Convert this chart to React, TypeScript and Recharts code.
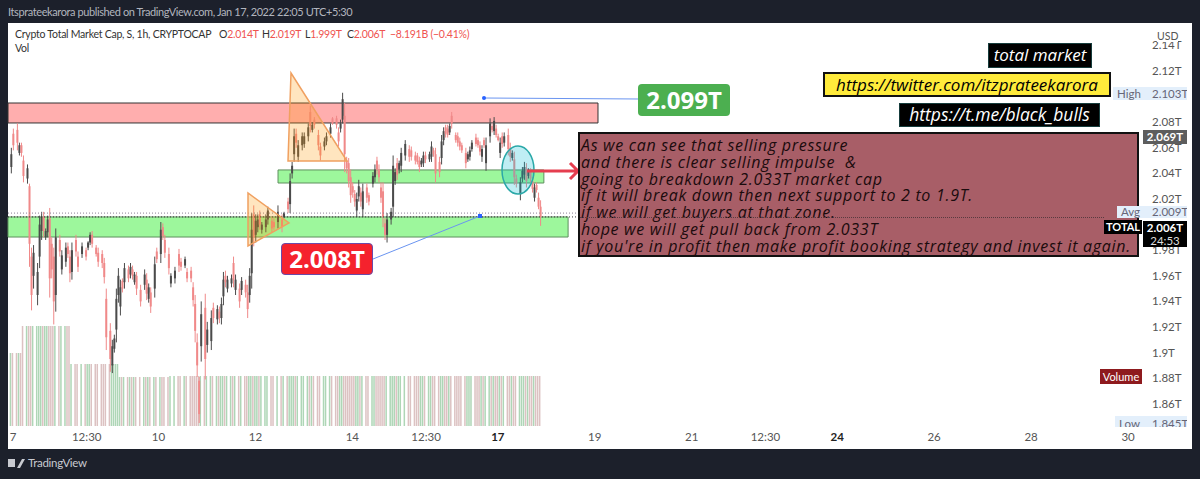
import { Bar, ComposedChart, ReferenceArea, ReferenceLine, XAxis, YAxis } from "recharts";

// candle hours counted from Jan 7 00:00
const hours = [
  -1, 0, 2, 3, 4, 5, 7, 8, 9, 10, 12, 13, 14, 15, 16, 17, 18, 19, 20, 21,
  23, 24, 26, 27, 28, 29, 31, 32, 34, 36, 37, 38, 39, 41, 42, 44, 45, 46, 48, 49,
  50, 51, 52, 53, 54, 55, 57, 58, 59, 60, 61, 63, 65, 66, 67, 68, 70, 71, 73, 74,
  75, 77, 78, 80, 82, 83, 85, 86, 88, 89, 90, 91, 92, 93, 95, 96, 98, 99, 101, 102,
  103, 104, 105, 106, 108, 109, 110, 112, 113, 115, 116, 117, 118, 119, 120, 121, 122, 123, 125, 126,
  128, 129, 131, 133, 134, 136, 137, 138, 139, 140, 141, 143, 144, 146, 147, 148, 149, 151, 152, 154,
  155, 157, 158, 160, 161, 162, 163, 164, 165, 166, 167, 168, 169, 170, 171, 172, 173, 175, 176, 178,
  179, 180, 181, 182, 183, 184, 185, 187, 188, 189, 190, 191, 192, 194, 196, 197, 199, 200, 201, 202,
  203, 204, 206, 207, 208, 209, 211, 212, 213, 214, 215, 216, 217, 219, 220, 221, 222, 224, 225, 226,
  227, 229, 230, 231, 232, 233, 234, 236, 237, 238, 239, 240, 241, 242, 243, 245, 246, 247, 248, 249,
  251, 252, 253, 254, 255, 256, 257, 258, 259, 260, 261,
];

const opens = [
  2.045, 2.071, 2.074, 2.056, 2.062, 2.05, 2.036, 2.03, 1.975, 1.96,
  1.945, 1.975, 1.995, 2.006, 1.99, 1.994, 2.005, 1.985, 1.975, 1.945,
  1.988, 1.965, 1.971, 1.983, 1.975, 1.963, 1.988, 1.975, 1.977, 1.98,
  1.982, 1.986, 1.992, 1.982, 1.978, 1.977, 1.97, 1.942, 1.917, 1.89,
  1.903, 1.918, 1.945, 1.936, 1.956, 1.955, 1.965, 1.961, 1.965, 1.955,
  1.96, 1.949, 1.953, 1.957, 1.942, 1.947, 1.95, 1.979, 1.977, 1.998,
  1.988, 1.977, 1.954, 1.958, 1.977, 1.971, 1.968, 1.963, 1.964, 1.951,
  1.938, 1.908, 1.878, 1.905, 1.935, 1.906, 1.909, 1.935, 1.926, 1.932,
  1.927, 1.944, 1.96, 1.95, 1.954, 1.97, 1.949, 1.95, 1.949, 1.953,
  1.947, 1.945, 1.962, 2.008, 1.992, 1.998, 2.008, 1.996, 1.998, 2.004,
  2.003, 2.002, 2.002, 2.004, 2.006, 2.018, 2.016, 2.04, 2.055, 2.071,
  2.053, 2.062, 2.063, 2.069, 2.088, 2.074, 2.082, 2.07, 2.061, 2.061,
  2.065, 2.071, 2.083, 2.083, 2.072, 2.075, 2.082, 2.085, 2.05, 2.048,
  2.037, 2.03, 2.024, 2.011, 2.022, 2.025, 2.012, 2.029, 2.023, 2.032,
  2.037, 2.05, 2.043, 2.029, 2.026, 2.001, 1.992, 2.004, 2.014, 2.034,
  2.048, 2.043, 2.046, 2.054, 2.059, 2.058, 2.054, 2.054, 2.05, 2.047,
  2.048, 2.054, 2.051, 2.053, 2.058, 2.055, 2.049, 2.052, 2.066, 2.076,
  2.075, 2.072, 2.085, 2.07, 2.069, 2.065, 2.062, 2.056, 2.051, 2.053,
  2.059, 2.068, 2.066, 2.062, 2.053, 2.066, 2.048, 2.069, 2.077, 2.073,
  2.075, 2.069, 2.056, 2.069, 2.064, 2.07, 2.06, 2.052, 2.051, 2.036,
  2.024, 2.036, 2.039, 2.044, 2.038, 2.041, 2.034, 2.021, 2.031, 2.021,
  2.014,
];

const highs = [
  2.06, 2.075, 2.079, 2.064, 2.064, 2.054, 2.047, 2.032, 1.982, 1.984,
  1.97, 2.007, 2.01, 2.01, 1.997, 2.007, 2.013, 1.99, 1.982, 1.997,
  1.992, 1.98, 1.986, 1.986, 1.98, 1.986, 1.992, 1.979, 1.986, 1.982,
  1.987, 1.994, 1.995, 1.984, 1.982, 1.98, 1.974, 1.95, 1.923, 1.91,
  1.914, 1.95, 1.966, 1.957, 1.958, 1.97, 1.968, 1.97, 1.968, 1.963,
  1.963, 1.953, 1.965, 1.962, 1.954, 1.951, 1.975, 1.982, 2.002, 2.001,
  1.992, 1.982, 1.962, 1.967, 1.981, 1.974, 1.975, 1.966, 1.967, 1.955,
  1.945, 1.915, 1.881, 1.94, 1.946, 1.924, 1.933, 1.939, 1.937, 1.936,
  1.943, 1.963, 1.964, 1.96, 1.961, 1.975, 1.961, 1.954, 1.959, 1.957,
  1.953, 1.966, 2.009, 2.015, 2.008, 2.008, 2.011, 2.002, 2.008, 2.014,
  2.006, 2.005, 2.015, 2.008, 2.01, 2.021, 2.04, 2.049, 2.075, 2.075,
  2.066, 2.072, 2.072, 2.079, 2.093, 2.08, 2.084, 2.074, 2.064, 2.068,
  2.072, 2.079, 2.084, 2.085, 2.076, 2.082, 2.103, 2.095, 2.053, 2.052,
  2.043, 2.033, 2.027, 2.025, 2.035, 2.029, 2.032, 2.032, 2.025, 2.041,
  2.047, 2.053, 2.047, 2.033, 2.033, 2.005, 2.009, 2.013, 2.054, 2.044,
  2.052, 2.05, 2.06, 2.066, 2.062, 2.061, 2.057, 2.056, 2.053, 2.052,
  2.057, 2.057, 2.057, 2.065, 2.06, 2.06, 2.053, 2.07, 2.076, 2.078,
  2.078, 2.079, 2.088, 2.072, 2.072, 2.068, 2.064, 2.06, 2.057, 2.061,
  2.066, 2.071, 2.068, 2.065, 2.062, 2.068, 2.068, 2.083, 2.079, 2.084,
  2.078, 2.071, 2.068, 2.072, 2.072, 2.075, 2.064, 2.058, 2.057, 2.039,
  2.037, 2.045, 2.049, 2.048, 2.044, 2.044, 2.037, 2.032, 2.033, 2.025,
  2.019,
];

const lows = [
  2.04, 2.058, 2.058, 2.054, 2.053, 2.033, 2.032, 1.967, 1.933, 1.95,
  1.937, 1.966, 1.988, 1.99, 1.988, 1.99, 1.943, 1.958, 1.922, 1.932,
  1.975, 1.961, 1.967, 1.974, 1.955, 1.957, 1.975, 1.963, 1.974, 1.972,
  1.98, 1.984, 1.982, 1.975, 1.967, 1.966, 1.954, 1.902, 1.885, 1.884,
  1.9, 1.908, 1.939, 1.929, 1.947, 1.95, 1.955, 1.958, 1.957, 1.953,
  1.945, 1.936, 1.949, 1.941, 1.939, 1.931, 1.943, 1.97, 1.97, 1.988,
  1.974, 1.961, 1.951, 1.954, 1.963, 1.964, 1.966, 1.955, 1.955, 1.936,
  1.908, 1.881, 1.845, 1.893, 1.879, 1.9, 1.902, 1.923, 1.922, 1.923,
  1.922, 1.937, 1.951, 1.947, 1.951, 1.951, 1.945, 1.935, 1.945, 1.943,
  1.927, 1.939, 1.95, 1.983, 1.986, 1.994, 1.996, 1.993, 1.994, 2.0,
  1.994, 1.996, 1.997, 1.994, 2.005, 2.009, 2.009, 2.036, 2.049, 2.06,
  2.049, 2.058, 2.06, 2.065, 2.072, 2.072, 2.075, 2.058, 2.05, 2.058,
  2.062, 2.068, 2.078, 2.075, 2.061, 2.072, 2.079, 2.041, 2.04, 2.029,
  2.017, 2.021, 2.014, 2.006, 2.018, 2.014, 2.006, 2.017, 2.015, 2.029,
  2.033, 2.039, 2.033, 2.017, 1.998, 1.988, 1.986, 2.0, 2.006, 2.031,
  2.035, 2.04, 2.041, 2.05, 2.049, 2.05, 2.047, 2.047, 2.041, 2.045,
  2.045, 2.048, 2.049, 2.049, 2.053, 2.033, 2.037, 2.047, 2.062, 2.068,
  2.068, 2.07, 2.075, 2.064, 2.061, 2.058, 2.056, 2.044, 2.049, 2.05,
  2.057, 2.061, 2.06, 2.054, 2.049, 2.06, 2.042, 2.064, 2.072, 2.07,
  2.068, 2.065, 2.052, 2.06, 2.061, 2.054, 2.049, 2.05, 2.031, 2.029,
  2.019, 2.033, 2.035, 2.029, 2.036, 2.033, 2.025, 2.018, 2.025, 2.012,
  1.999,
];

const closes = [
  2.055, 2.062, 2.064, 2.062, 2.056, 2.038, 2.044, 1.985, 1.945, 1.978,
  1.963, 2.0, 2.006, 1.995, 1.995, 2.004, 1.958, 1.965, 1.94, 1.99,
  1.979, 1.976, 1.982, 1.977, 1.962, 1.98, 1.979, 1.967, 1.983, 1.975,
  1.986, 1.992, 1.985, 1.977, 1.971, 1.97, 1.959, 1.912, 1.895, 1.905,
  1.911, 1.942, 1.96, 1.951, 1.95, 1.966, 1.958, 1.967, 1.96, 1.961,
  1.95, 1.94, 1.961, 1.946, 1.951, 1.936, 1.969, 1.973, 1.996, 1.991,
  1.978, 1.966, 1.96, 1.964, 1.968, 1.967, 1.973, 1.958, 1.958, 1.941,
  1.917, 1.89, 1.852, 1.93, 1.895, 1.918, 1.927, 1.927, 1.934, 1.927,
  1.938, 1.957, 1.955, 1.957, 1.958, 1.957, 1.957, 1.94, 1.956, 1.947,
  1.934, 1.96, 1.996, 1.99, 2.003, 2.004, 2.0, 2.0, 2.004, 2.011,
  1.997, 1.998, 2.01, 1.998, 2.009, 2.012, 2.034, 2.046, 2.069, 2.064,
  2.062, 2.069, 2.069, 2.076, 2.077, 2.078, 2.078, 2.062, 2.054, 2.065,
  2.069, 2.076, 2.079, 2.078, 2.065, 2.079, 2.098, 2.055, 2.044, 2.034,
  2.023, 2.025, 2.018, 2.02, 2.03, 2.018, 2.026, 2.021, 2.018, 2.038,
  2.043, 2.043, 2.037, 2.021, 2.006, 1.992, 2.004, 2.01, 2.046, 2.041,
  2.039, 2.048, 2.056, 2.063, 2.053, 2.053, 2.05, 2.049, 2.045, 2.05,
  2.054, 2.051, 2.055, 2.061, 2.055, 2.04, 2.041, 2.065, 2.073, 2.071,
  2.07, 2.077, 2.079, 2.066, 2.064, 2.061, 2.058, 2.048, 2.055, 2.058,
  2.064, 2.063, 2.062, 2.057, 2.059, 2.062, 2.062, 2.079, 2.074, 2.081,
  2.07, 2.066, 2.064, 2.063, 2.069, 2.059, 2.053, 2.056, 2.037, 2.032,
  2.033, 2.042, 2.045, 2.034, 2.042, 2.036, 2.028, 2.029, 2.027, 2.014,
  2.006,
];

const volumes = [
  73, 73, 73, 73, 73, 100, 100, 100, 100, 100,
  100, 100, 100, 100, 100, 100, 100, 100, 100, 100,
  100, 100, 100, 100, 100, 62, 62, 62, 62, 62,
  62, 62, 62, 62, 62, 62, 62, 62, 62, 62,
  62, 62, 62, 49, 49, 49, 49, 49, 49, 49,
  49, 49, 49, 49, 49, 49, 49, 49, 49, 49,
  49, 49, 50, 50, 50, 50, 50, 50, 50, 50,
  50, 50, 50, 50, 50, 50, 50, 50, 50, 50,
  50, 50, 50, 50, 50, 50, 50, 50, 50, 50,
  50, 50, 50, 50, 50, 50, 50, 50, 50, 50,
  50, 50, 50, 50, 50, 50, 50, 50, 50, 50,
  50, 50, 50, 50, 50, 50, 50, 50, 50, 50,
  50, 50, 50, 50, 50, 50, 50, 50, 50, 50,
  50, 50, 50, 50, 50, 50, 50, 50, 50, 50,
  50, 50, 50, 50, 50, 50, 50, 50, 50, 50,
  50, 50, 50, 50, 50, 50, 50, 50, 50, 50,
  50, 50, 50, 50, 50, 50, 50, 50, 50, 50,
  50, 50, 50, 50, 50, 50, 50, 50, 50, 50,
  50, 50, 50, 50, 50, 50, 50, 50, 50, 50,
  50, 50, 50, 50, 50, 50, 50, 50, 50, 50,
  50, 50, 50, 50, 50, 50, 50, 50, 50, 50,
  50,
];

const timeTicks = [0, 36.5, 72, 120, 168, 204.5, 240, 288, 336, 372.5, 408, 456, 504, 552];
const timeLabels = ["7", "12:30", "10", "12", "14", "12:30", "17", "19", "21", "12:30", "24", "26", "28", "30"];
const boldLabels = ["17", "24"];
const priceTicks = [2.14, 2.12, 2.08, 2.06, 2.04, 2.02, 1.98, 1.96, 1.94, 1.92, 1.9, 1.88, 1.86];

const noteLines = [
  "As we can see that selling pressure",
  "and there is clear selling impulse  &",
  "going to breakdown 2.033T market cap",
  "if it will break down then next support to 2 to 1.9T.",
  "if we will get buyers at that zone.",
  "hope we will get pull back from 2.033T",
  "if you're in profit then make profit booking strategy and invest it again.",
];

const ohlcLabels = ["O", "H", "L", "C"];
const ohlcValues = ["2.014T", "2.019T", "1.999T", "2.006T"];

const rows = hours.map((hour, i) => ({
  hour,
  open: opens[i],
  high: highs[i],
  low: lows[i],
  close: closes[i],
  volume: volumes[i],
}));

const FONT = "Lato, sans-serif";
const NOTE_FONT = "'Open Sans', sans-serif";
const UP = "#4b4b4b";
const DOWN = "#f08989";
const OHLC_LEFT = [219, 262, 305, 347];

function Candle(props: any) {
  const { x, y, width, height, payload } = props;
  const top = Math.min(y, y + height);
  const span = Math.abs(height);
  const range = payload.high - payload.low || 1;
  const px = (v: number) => top + ((payload.high - v) / range) * span;
  const bodyTop = px(Math.max(payload.open, payload.close));
  const bodyBottom = px(Math.min(payload.open, payload.close));
  const color = payload.close >= payload.open ? UP : DOWN;
  const mid = x + width / 2;
  return (
    <g>
      <line x1={mid} x2={mid} y1={top} y2={top + span} stroke={color} strokeWidth={1} />
      <rect x={mid - 1} y={bodyTop} width={2} height={Math.max(bodyBottom - bodyTop, 1)} fill={color} />
    </g>
  );
}

// recharts squeezes bars to the one hour band, so the width is set here
function VolumeBar(props: any) {
  const { x, y, width, height, payload } = props;
  const fill = payload.close >= payload.open ? "#aed6b6" : "#dcc2c2";
  return <rect x={x + width / 2 - 0.75} y={y} width={1.5} height={height} fill={fill} />;
}

function TimeTick(props: any) {
  const { x, y, payload } = props;
  const label = timeLabels[timeTicks.indexOf(payload.value)];
  const bold = boldLabels.includes(label);
  return (
    <text x={x} y={y + 7} textAnchor="middle" fontFamily={FONT} fontSize={11.5} fontWeight={bold ? 700 : 400} fill={bold ? "#222" : "#555"}>
      {label}
    </text>
  );
}

function Tag(props: any) {
  const { x, y, w, h, bg, color, border, children, italic, size, weight, radius, center, font } = props;
  return (
    <div
      style={{
        position: "absolute",
        left: x,
        top: y,
        width: w,
        height: h,
        boxSizing: "border-box",
        background: bg,
        color,
        border: border || "none",
        borderRadius: radius || 0,
        fontFamily: font || FONT,
        fontSize: size || 11,
        fontStyle: italic ? "italic" : "normal",
        fontWeight: weight || 400,
        lineHeight: `${h - (border ? 3 : 0)}px`,
        textAlign: center ? "center" : "left",
        whiteSpace: "pre",
      }}
    >
      {children}
    </div>
  );
}

function PriceTag(props: any) {
  const { x, y, w, h, label, value, lineHeight } = props;
  const style: any = { position: "absolute", fontFamily: FONT, fontSize: 11.5, color: "#667", lineHeight: `${lineHeight || h}px`, whiteSpace: "pre" };
  return (
    <div style={{ position: "absolute", left: x, top: y, width: w, height: h, background: "#e3effb", overflow: "hidden" }}>
      <span style={{ ...style, left: 4, top: 0 }}>{label}</span>
      <span style={{ ...style, left: 1152 - x, top: 0 }}>{value}</span>
    </div>
  );
}

export default function App() {
  const legend: any = { position: "absolute", top: 28, fontFamily: FONT, fontSize: 10.5, letterSpacing: -0.25, color: "#333", whiteSpace: "pre" };
  return (
    <div style={{ position: "absolute", left: 0, top: 0, width: 1200, height: 479, overflow: "hidden", background: "#1c202b" }}>
      <div style={{ position: "absolute", left: 8, top: 23, width: 1184, height: 426, background: "#fff" }} />
      <div style={{ position: "absolute", left: 8, top: 5, fontFamily: FONT, fontSize: 11, letterSpacing: -0.4, color: "#b2b5be", whiteSpace: "pre" }}>
        Itsprateekarora published on TradingView.com, Jan 17, 2022 22:05 UTC+5:30
      </div>

      <div style={{ position: "absolute", left: 0, top: 0 }}>
        <ComposedChart width={1200} height={479} data={rows} margin={{ top: 23, right: 8, bottom: 30, left: 8 }}>
          <XAxis
            xAxisId="time"
            dataKey="hour"
            type="number"
            domain={[-2.475, 559.4]}
            allowDataOverflow
            ticks={timeTicks}
            interval={0}
            height={23}
            tick={<TimeTick />}
            tickLine={false}
            axisLine={false}
          />
          <YAxis
            yAxisId="price"
            orientation="right"
            type="number"
            domain={[1.84266, 2.1575]}
            allowDataOverflow
            ticks={priceTicks}
            interval={0}
            width={49}
            tickFormatter={(v: number) => `${v}T`}
            tick={{ fontFamily: FONT, fontSize: 11.5, fill: "#555" }}
            tickLine={false}
            tickMargin={3}
            axisLine={false}
          />
          <YAxis yAxisId="volume" hide type="number" domain={[0, 403]} allowDataOverflow />

          <Bar xAxisId="time" yAxisId="volume" dataKey="volume" barSize={2} shape={<VolumeBar />} isAnimationActive={false} />
          <Bar
            xAxisId="time"
            yAxisId="price"
            dataKey={(d: any) => [d.low, d.high]}
            barSize={2}
            shape={<Candle />}
            isAnimationActive={false}
          />

          <ReferenceArea xAxisId="time" yAxisId="price" x1={-2.475} x2={289.6} y1={2.0794} y2={2.095} fill="#ff6b6b" fillOpacity={0.55} stroke="#333" strokeWidth={1} />
          <ReferenceArea xAxisId="time" yAxisId="price" x1={-2.475} x2={274.8} y1={1.9903} y2={2.006} fill="#4cf04a" fillOpacity={0.55} stroke="#5e8f5e" strokeWidth={1} />
          <ReferenceArea xAxisId="time" yAxisId="price" x1={131.2} x2={262.8} y1={2.0325} y2={2.0427} fill="#4cf04a" fillOpacity={0.55} stroke="#5e8f5e" strokeWidth={1} />
          <ReferenceLine xAxisId="time" yAxisId="price" y={2.009} stroke="#8a7f95" strokeDasharray="1 2" />
          <ReferenceLine xAxisId="time" yAxisId="price" y={2.006} stroke="#333" strokeDasharray="1 2" />
        </ComposedChart>
      </div>

      {/* drawings the author placed on top of the chart */}
      <svg width={1200} height={479} style={{ position: "absolute", left: 0, top: 0 }}>
        <polygon points="291,73 288,161 347,161" fill="#ff9800" fillOpacity={0.25} stroke="#f0a060" strokeWidth={1.5} />
        <polygon points="248,193 248,246 289,223" fill="#ff9800" fillOpacity={0.25} stroke="#f0a060" strokeWidth={1.5} />
        <ellipse cx={518} cy={170} rx={16} ry={24} fill="#00bcd4" fillOpacity={0.25} stroke="#2aa8a8" strokeWidth={1.5} />
        <line x1={484} y1={98} x2={640} y2={99} stroke="#6a94f0" strokeWidth={1} />
        <circle cx={484} cy={98} r={2} fill="#2962ff" />
        <line x1={480} y1={216} x2={373} y2={259} stroke="#6a94f0" strokeWidth={1} />
        <rect x={478} y={214} width={4} height={4} fill="#2962ff" />
        <path d="M527 171 H578 M570 163 L578 171 L570 179" fill="none" stroke="#e53e4f" strokeWidth={3} />
        <path d="M8 467 H15 V459 H8 Z M17 468 L22 459 H25 L20 468 Z" fill="#c8cad0" />
      </svg>

      <div style={{ ...legend, left: 15 }}>Crypto Total Market Cap, S, 1h, CRYPTOCAP</div>
      {ohlcLabels.map((k, i) => (
        <div key={k} style={{ ...legend, left: OHLC_LEFT[i] }}>
          {k}
          <span style={{ color: "#ef5350" }}>{ohlcValues[i]}</span>
        </div>
      ))}
      <div style={{ ...legend, left: 390, color: "#ef5350" }}>−8.191B (−0.41%)</div>
      <div style={{ ...legend, left: 15, top: 42 }}>Vol</div>

      <Tag x={638} y={84} w={92} h={32} bg="#4caf50" color="#fff" size={24} weight={700} radius={4} center font={NOTE_FONT}>2.099T</Tag>
      <Tag x={281} y={243} w={92} h={32} bg="#f5222d" color="#fff" border="1px solid #6a4aa8" size={24} weight={700} radius={4} center font={NOTE_FONT}>2.008T</Tag>

      <Tag x={988} y={43} w={104} h={25} bg="#000" color="#fff" border="1px solid #163c3c" size={17} weight={500} italic center font={NOTE_FONT}>total market</Tag>
      <Tag x={823} y={72} w={288} h={25} bg="#ffeb3b" color="#000" border="2px solid #111" size={17} weight={500} italic center font={NOTE_FONT}>https://twitter.com/itzprateekarora</Tag>
      <Tag x={899} y={103} w={201} h={24} bg="#000" color="#fff" border="1px solid #163c3c" size={17.5} weight={500} italic center font={NOTE_FONT}>https://t.me/black_bulls</Tag>

      <div
        style={{
          position: "absolute",
          left: 578,
          top: 132,
          width: 561,
          height: 125,
          boxSizing: "border-box",
          background: "#a85e67",
          border: "2px solid #111",
          padding: "3px 0 0 1px",
          color: "#1b0b0d",
          fontFamily: NOTE_FONT,
          fontStyle: "italic",
          fontSize: 16,
          lineHeight: "16.8px",
          letterSpacing: 0.7,
          whiteSpace: "pre",
        }}
      >
        {noteLines.map((line) => (
          <div key={line}>{line}</div>
        ))}
      </div>
      <div style={{ position: "absolute", left: 580, top: 217, width: 524, borderTop: "1px dotted #5a3a40" }} />

      <Tag x={1157} y={31} w={21} h={11} bg="#fff" color="#555" size={10.5} center>USD</Tag>
      <PriceTag x={1113} y={87} w={74} h={13} label="High" value="2.103T" />
      <Tag x={1143} y={130} w={44} h={14} bg="#5d5d5d" color="#fff" size={11.5} weight={700} center>2.069T</Tag>
      <PriceTag x={1117} y={206} w={70} h={12} label="Avg" value="2.009T" />
      <Tag x={1104} y={220} w={38} h={14} bg="#000" color="#fff" size={11} weight={700} center>TOTAL</Tag>
      <Tag x={1143} y={221} w={44} h={13} bg="#000" color="#fff" size={11.5} weight={700} center>2.006T</Tag>
      <Tag x={1143} y={234} w={44} h={13} bg="#000" color="#ddd" size={11.5} center>24:53</Tag>
      <Tag x={1100} y={369} w={42} h={15} bg="#8e1a1e" color="#fff" size={11} center>Volume</Tag>
      <PriceTag x={1115} y={416} w={72} h={11} label="Low" value="1.845T" lineHeight={16} />

      <div style={{ position: "absolute", left: 28, top: 456, fontFamily: FONT, fontSize: 11.5, letterSpacing: -0.3, color: "#c8cad0" }}>TradingView</div>
    </div>
  );
}
